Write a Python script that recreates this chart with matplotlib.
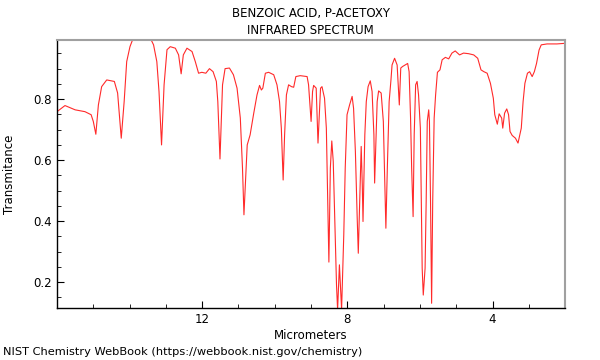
import matplotlib
matplotlib.use("Agg")
import matplotlib.pyplot as plt
from matplotlib.ticker import MultipleLocator

title_lines = ["BENZOIC ACID, P-ACETOXY", "INFRARED SPECTRUM"]
x_label = "Micrometers"
y_label = "Transmitance"
footer = "NIST Chemistry WebBook (https://webbook.nist.gov/chemistry)"

micrometers = [
    16.0, 15.78, 15.50, 15.23, 15.06, 15.0, 14.93, 14.86, 14.77, 14.63, 14.42, 14.33,
    14.23, 14.15, 14.08, 13.99, 13.90, 13.71, 13.43, 13.34, 13.25, 13.19, 13.12, 13.05,
    12.97, 12.88, 12.74, 12.65, 12.58, 12.52, 12.42, 12.28, 12.19, 12.10, 12.01, 11.90,
    11.80, 11.70, 11.61, 11.57, 11.51, 11.44, 11.37, 11.25, 11.14, 11.04, 10.95, 10.89,
    10.85, 10.79, 10.76, 10.68, 10.58, 10.49, 10.42, 10.37, 10.33, 10.26, 10.17, 10.03,
    9.94, 9.87, 9.82, 9.77, 9.73, 9.68, 9.62, 9.54, 9.48, 9.42, 9.30, 9.11, 9.07, 9.00,
    8.96, 8.93, 8.86, 8.81, 8.74, 8.70, 8.63, 8.58, 8.54, 8.51, 8.47, 8.43, 8.39, 8.35,
    8.30, 8.27, 8.22, 8.16, 8.10, 8.06, 8.01, 7.94, 7.87, 7.83, 7.78, 7.73, 7.70, 7.66,
    7.62, 7.59, 7.57, 7.52, 7.48, 7.43, 7.37, 7.32, 7.27, 7.25, 7.21, 7.18, 7.14, 7.07,
    7.01, 6.98, 6.94, 6.90, 6.85, 6.80, 6.77, 6.70, 6.63, 6.57, 6.53, 6.48, 6.41, 6.34,
    6.30, 6.26, 6.23, 6.19, 6.16, 6.12, 6.08, 6.04, 5.99, 5.97, 5.94, 5.91, 5.86, 5.83,
    5.80, 5.76, 5.74, 5.71, 5.68, 5.65, 5.61, 5.57, 5.52, 5.45, 5.39, 5.30, 5.21, 5.12,
    5.03, 4.91, 4.80, 4.66, 4.52, 4.41, 4.32, 4.24, 4.15, 4.06, 3.98, 3.94, 3.87, 3.82,
    3.75, 3.72, 3.67, 3.61, 3.56, 3.52, 3.46, 3.37, 3.30, 3.25, 3.21, 3.16, 3.11, 3.04,
    2.98, 2.91, 2.85, 2.79, 2.72, 2.66, 2.50, 2.23, 2.0,
]
transmittance = [
    0.759, 0.779, 0.765, 0.759, 0.749, 0.727, 0.685, 0.781, 0.841, 0.863, 0.858, 0.820,
    0.672, 0.792, 0.923, 0.972, 1.0, 1.0, 1.0, 0.978, 0.923, 0.825, 0.650, 0.847,
    0.962, 0.972, 0.967, 0.945, 0.883, 0.945, 0.967, 0.956, 0.923, 0.885, 0.888, 0.885,
    0.900, 0.890, 0.858, 0.792, 0.604, 0.847, 0.900, 0.902, 0.880, 0.836, 0.738, 0.574,
    0.421, 0.574, 0.650, 0.683, 0.754, 0.814, 0.845, 0.830, 0.836, 0.885, 0.888, 0.880,
    0.847, 0.792, 0.705, 0.535, 0.683, 0.814, 0.847, 0.841, 0.839, 0.874, 0.877, 0.874, 0.847, 0.727,
    0.825, 0.845, 0.836, 0.656, 0.836, 0.841, 0.803, 0.705, 0.464, 0.266, 0.574, 0.663, 0.596, 0.410,
    0.191, 0.110, 0.257, 0.110, 0.355, 0.574, 0.749, 0.781, 0.809, 0.770, 0.628, 0.410, 0.295, 0.464,
    0.645, 0.519, 0.399, 0.683, 0.792, 0.841, 0.860, 0.825, 0.683, 0.525, 0.683, 0.792, 0.827, 0.820,
    0.727, 0.574, 0.377, 0.574, 0.792, 0.863, 0.912, 0.934, 0.912, 0.781, 0.902, 0.907, 0.912, 0.917,
    0.890, 0.738, 0.574, 0.415, 0.683, 0.847, 0.858, 0.814, 0.705, 0.519, 0.246, 0.158, 0.246, 0.464,
    0.727, 0.765, 0.727, 0.464, 0.131, 0.464, 0.738, 0.814, 0.888, 0.896, 0.929, 0.937, 0.932, 0.951,
    0.958, 0.945, 0.951, 0.949, 0.945, 0.934, 0.896, 0.890, 0.885, 0.852, 0.803, 0.749, 0.718, 0.752,
    0.738, 0.705, 0.754, 0.768, 0.749, 0.694, 0.681, 0.672, 0.656, 0.683, 0.705, 0.792, 0.852, 0.885,
    0.890, 0.874, 0.890, 0.917, 0.961, 0.978, 0.981, 0.981, 0.983,
]
x_ticks = [12, 8, 4]
y_ticks = [0.2, 0.4, 0.6, 0.8]

fig = plt.figure(figsize=(6, 3.6), dpi=100)
ax = fig.add_axes([0.095, 0.144, 0.847, 0.745])
ax.plot(micrometers, transmittance, color="#ff2a2a", lw=0.8)
ax.set_xlim(16, 2)
ax.set_ylim(0.115, 0.994)
ax.set_xticks(x_ticks)
ax.set_xticklabels([str(t) for t in x_ticks])
ax.set_yticks(y_ticks)
ax.set_yticklabels([f"{t:.1f}" for t in y_ticks])
ax.xaxis.set_minor_locator(MultipleLocator(1))
ax.yaxis.set_minor_locator(MultipleLocator(0.05))
ax.tick_params(which="both", direction="in", top=False, right=False, labelsize=8.5)
ax.tick_params(which="major", length=5)
ax.tick_params(which="minor", length=3)
for s in ["top", "right"]:
    ax.spines[s].set_color("#a0a0a0")
    ax.spines[s].set_linewidth(1.5)
for s in ["left", "bottom"]:
    ax.spines[s].set_color("black")
    ax.spines[s].set_linewidth(1.0)
ax.set_xlabel(x_label, fontsize=8.5, labelpad=2)
ax.set_ylabel(y_label, fontsize=8.5)
ax.yaxis.set_label_coords(-0.08, 0.5)
fig.text(0.518, 0.962, title_lines[0], ha="center", va="center", fontsize=8.5)
fig.text(0.518, 0.915, title_lines[1], ha="center", va="center", fontsize=8.5)
fig.text(0.005, 0.022, footer, ha="left", va="center", fontsize=8.2)
fig.savefig("out.png", dpi=100)
